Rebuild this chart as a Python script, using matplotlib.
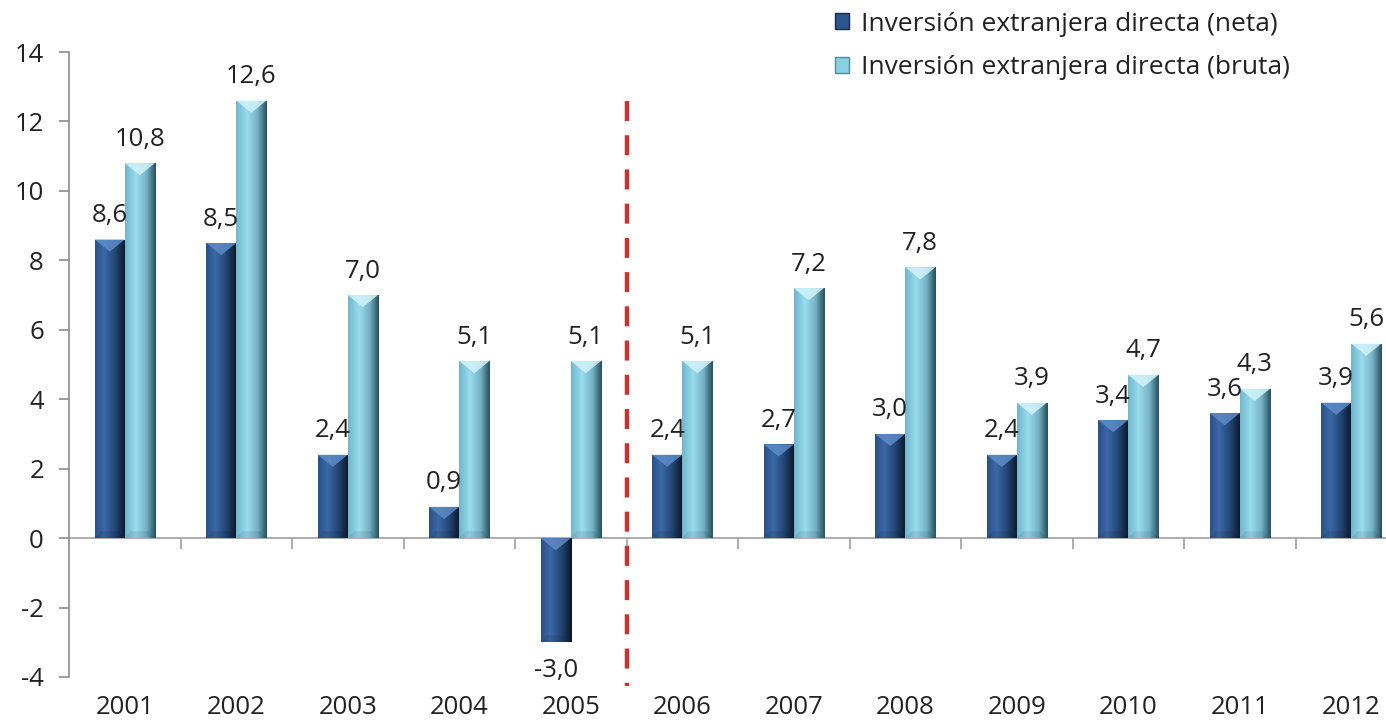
import matplotlib
matplotlib.use("Agg")
import matplotlib.pyplot as plt
import numpy as np
from matplotlib.colors import LinearSegmentedColormap
from matplotlib.patches import Patch, Polygon

plt.rcParams['font.family'] = ['Open Sans', 'DejaVu Sans']

years = ['2001', '2002', '2003', '2004', '2005', '2006',
         '2007', '2008', '2009', '2010', '2011', '2012']
neta = [8.6, 8.5, 2.4, 0.9, -3.0, 2.4, 2.7, 3.0, 2.4, 3.4, 3.6, 3.9]
bruta = [10.8, 12.6, 7.0, 5.1, 5.1, 5.1, 7.2, 7.8, 3.9, 4.7, 4.3, 5.6]
series_names = ['Inversión extranjera directa (neta)',
                'Inversión extranjera directa (bruta)']
yticks = [-4, -2, 0, 2, 4, 6, 8, 10, 12, 14]

# horizontal shading of each bar, left -> right
neta_cmap = LinearSegmentedColormap.from_list(
    'neta', [(0, '#2a5288'), (0.3, '#3b68a5'), (0.65, '#234676'), (1, '#0b1626')])
bruta_cmap = LinearSegmentedColormap.from_list(
    'bruta', [(0, '#6fb6cc'), (0.35, '#9bdcee'), (0.7, '#74b3c6'), (1, '#27505c')])
neta_top = '#5d8cc8'
bruta_top = '#d2f3fb'
FS = 18.5

fig = plt.figure(figsize=(13.86, 7.22), dpi=100)
ax = fig.add_axes([69 / 1386, 1 - 677 / 722, 1338 / 1386, 625 / 722])

x = np.arange(len(years))
w = 0.27
grad = np.linspace(0, 1, 64).reshape(1, -1)


def shaded_bars(xpos, vals, cmap, topcol):
    bars = ax.bar(xpos, vals, w, color=cmap(0.3), edgecolor='none', zorder=2)
    for b in bars:
        x0, y0 = b.get_x(), b.get_y()
        bw, bh = b.get_width(), b.get_height()
        y1 = y0 + bh
        lo, hi = min(y0, y1), max(y0, y1)
        im = ax.imshow(grad, cmap=cmap, aspect='auto', extent=(x0, x0 + bw, lo, hi),
                       zorder=2.1, interpolation='bicubic')
        im.set_clip_path(b)
        # bevel at the top edge
        d = 0.35
        tri = Polygon([(x0, hi), (x0 + bw, hi), (x0 + bw / 2, hi - d)],
                      closed=True, facecolor=topcol, edgecolor='none', alpha=0.85, zorder=2.2)
        ax.add_patch(tri)
        bot = Polygon([(x0, lo), (x0 + bw, lo), (x0 + bw * 0.8, lo + 0.2), (x0 + bw * 0.2, lo + 0.2)],
                      closed=True, facecolor='black', edgecolor='none', alpha=0.08, zorder=2.2)
        ax.add_patch(bot)
    return bars


shaded_bars(x - w / 2, neta, neta_cmap, neta_top)
shaded_bars(x + w / 2, bruta, bruta_cmap, bruta_top)

# value labels
for xi, v in zip(x - w / 2, neta):
    lab = f'{v:.1f}'.replace('.', ',')
    if v >= 0:
        ax.text(xi, v + 0.33, lab, ha='center', va='bottom', fontsize=FS, color='#222222', zorder=4)
    else:
        ax.text(xi, v - 0.45, lab, ha='center', va='top', fontsize=FS, color='#222222', zorder=4)
for xi, v in zip(x + w / 2, bruta):
    lab = f'{v:.1f}'.replace('.', ',')
    ax.text(xi, v + 0.33, lab, ha='center', va='bottom', fontsize=FS, color='#222222', zorder=4)

# dashed separator between 2005 and 2006
ax.plot([4.5, 4.5], [12.6, -4.25], color='#c8332f', lw=3.2, dashes=(4.5, 3.2),
        clip_on=False, zorder=3)

ax.set_xlim(-0.5, 11.5)
ax.set_ylim(-4, 14)
ax.set_yticks(yticks)
ax.set_yticklabels([str(t) for t in yticks])
ax.tick_params(axis='y', direction='out', length=7, width=1.2, color='#8c8c8c',
               pad=11, labelsize=FS, labelcolor='#222222')

for s in ['top', 'right']:
    ax.spines[s].set_visible(False)
ax.spines['left'].set_color('#8c8c8c')
ax.spines['left'].set_linewidth(1.2)
ax.spines['bottom'].set_position(('data', 0))
ax.spines['bottom'].set_color('#a0a0a0')
ax.spines['bottom'].set_linewidth(1.2)
ax.spines['bottom'].set_zorder(1)
ax.set_xticks(np.arange(0.5, 11, 1.0))
ax.set_xticklabels([])
ax.tick_params(axis='x', direction='out', length=8, width=1.2, color='#a0a0a0')

# year labels along the bottom
sec = ax.secondary_xaxis(0)
sec.set_xticks(x)
sec.set_xticklabels(years)
sec.tick_params(length=0, pad=13, labelsize=FS, labelcolor='#222222')
sec.spines['bottom'].set_visible(False)

handles = [Patch(facecolor='#2d5690', edgecolor='#16294a'),
           Patch(facecolor='#8ccfe2', edgecolor='#4a8ea2')]
leg = fig.legend(handles, series_names, loc='upper left',
                 bbox_to_anchor=(824 / 1386, 1 - 1 / 722), frameon=False, fontsize=19,
                 handlelength=0.55, handleheight=0.55, handletextpad=0.45, labelspacing=0.7,
                 borderaxespad=0)
for t in leg.get_texts():
    t.set_color('#222222')

fig.savefig('out.png', dpi=100)
